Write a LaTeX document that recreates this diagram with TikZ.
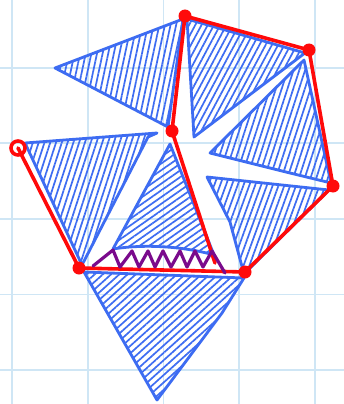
\documentclass[tikz,border=0pt]{standalone}
\usetikzlibrary{patterns.meta}
\definecolor{gridblue}{HTML}{CFE6F5}
\definecolor{penblue}{HTML}{3D6CF2}
\definecolor{penred}{HTML}{FF0A0A}
\definecolor{penpurple}{HTML}{7A0A8C}
\tikzset{
  tri/.style={draw=penblue, line width=2.8pt, line join=round, line cap=round},
  hatch/.style={pattern={Lines[angle=#1,distance=5.5pt,line width=1.7pt]}, pattern color=penblue},
  redline/.style={draw=penred, line width=3.6pt, line join=round, line cap=round},
  reddot/.style={circle, fill=penred, inner sep=0pt, minimum size=13pt},
  gridline/.style={draw=gridblue, line width=1.8pt},
  zig/.style={draw=penpurple, line width=3.2pt, line join=round, line cap=round},
}
\begin{document}
\begin{tikzpicture}[x=1pt,y=-1pt]
\useasboundingbox (0,0) rectangle (344,404);
\fill[white] (0,0) rectangle (344,404);
% grid
\foreach \gx in {12.3,87.9,163.5,239.1,314.7} \draw[gridline] (\gx,0) -- (\gx,404);
\foreach \gy in {67.7,143.3,218.9,294.5,370.1} \draw[gridline] (0,\gy) -- (344,\gy);
% vertices
\coordinate (A) at (185,16);
\coordinate (B) at (309,50);
\coordinate (C) at (333,186);
\coordinate (D) at (245,272);
\coordinate (E) at (79,268);
\coordinate (F) at (18,148);
\coordinate (G) at (172,131);
\coordinate (P) at (215,263);
% blue triangles
\path[tri,hatch=78] (55,68) -- (183,19) -- (168,127) -- cycle;
\path[tri,hatch=62] (187,19) -- (305,53) -- (194,137) -- cycle;
\path[tri,hatch=72] (210,153) -- (304,60) -- (331,183) -- (290,173) -- cycle;
\path[tri,hatch=70] (207,177) -- (329,190) -- (244,274) -- (230,222) -- cycle;
\path[tri,hatch=72] (25,143) -- (157,133) -- (148,137) -- (82,265) -- cycle;
\path[tri,hatch=35] (170,144) -- (113,249) .. controls (150,243) and (190,248) .. (214,255) -- cycle;
\path[tri,hatch=42] (84,272) -- (244,278) -- (222,313) -- (157,400) -- cycle;
% red edges
\draw[redline] (A) -- (B) -- (C) -- (D) -- (E) -- (F);
\draw[redline] (A) -- (G) -- (P);
% red points
\node[reddot] (nA) at (A) {};
\node[reddot] (nB) at (B) {};
\node[reddot] (nC) at (C) {};
\node[reddot] (nD) at (D) {};
\node[reddot] (nE) at (E) {};
\node[reddot] (nG) at (G) {};
\node[circle, draw=penred, line width=3.6pt, minimum size=14pt, inner sep=0pt] (nF) at (F) {};
% purple zigzag
\draw[zig] (93,266) -- (113,250) -- (120,267) -- (132,251) -- (139,267) -- (148,251) -- (155,267) -- (163,251) -- (171,267) -- (180,251) -- (187,267) -- (195,251) -- (203,267) -- (212,251) -- (225,273);
\end{tikzpicture}
\end{document}
